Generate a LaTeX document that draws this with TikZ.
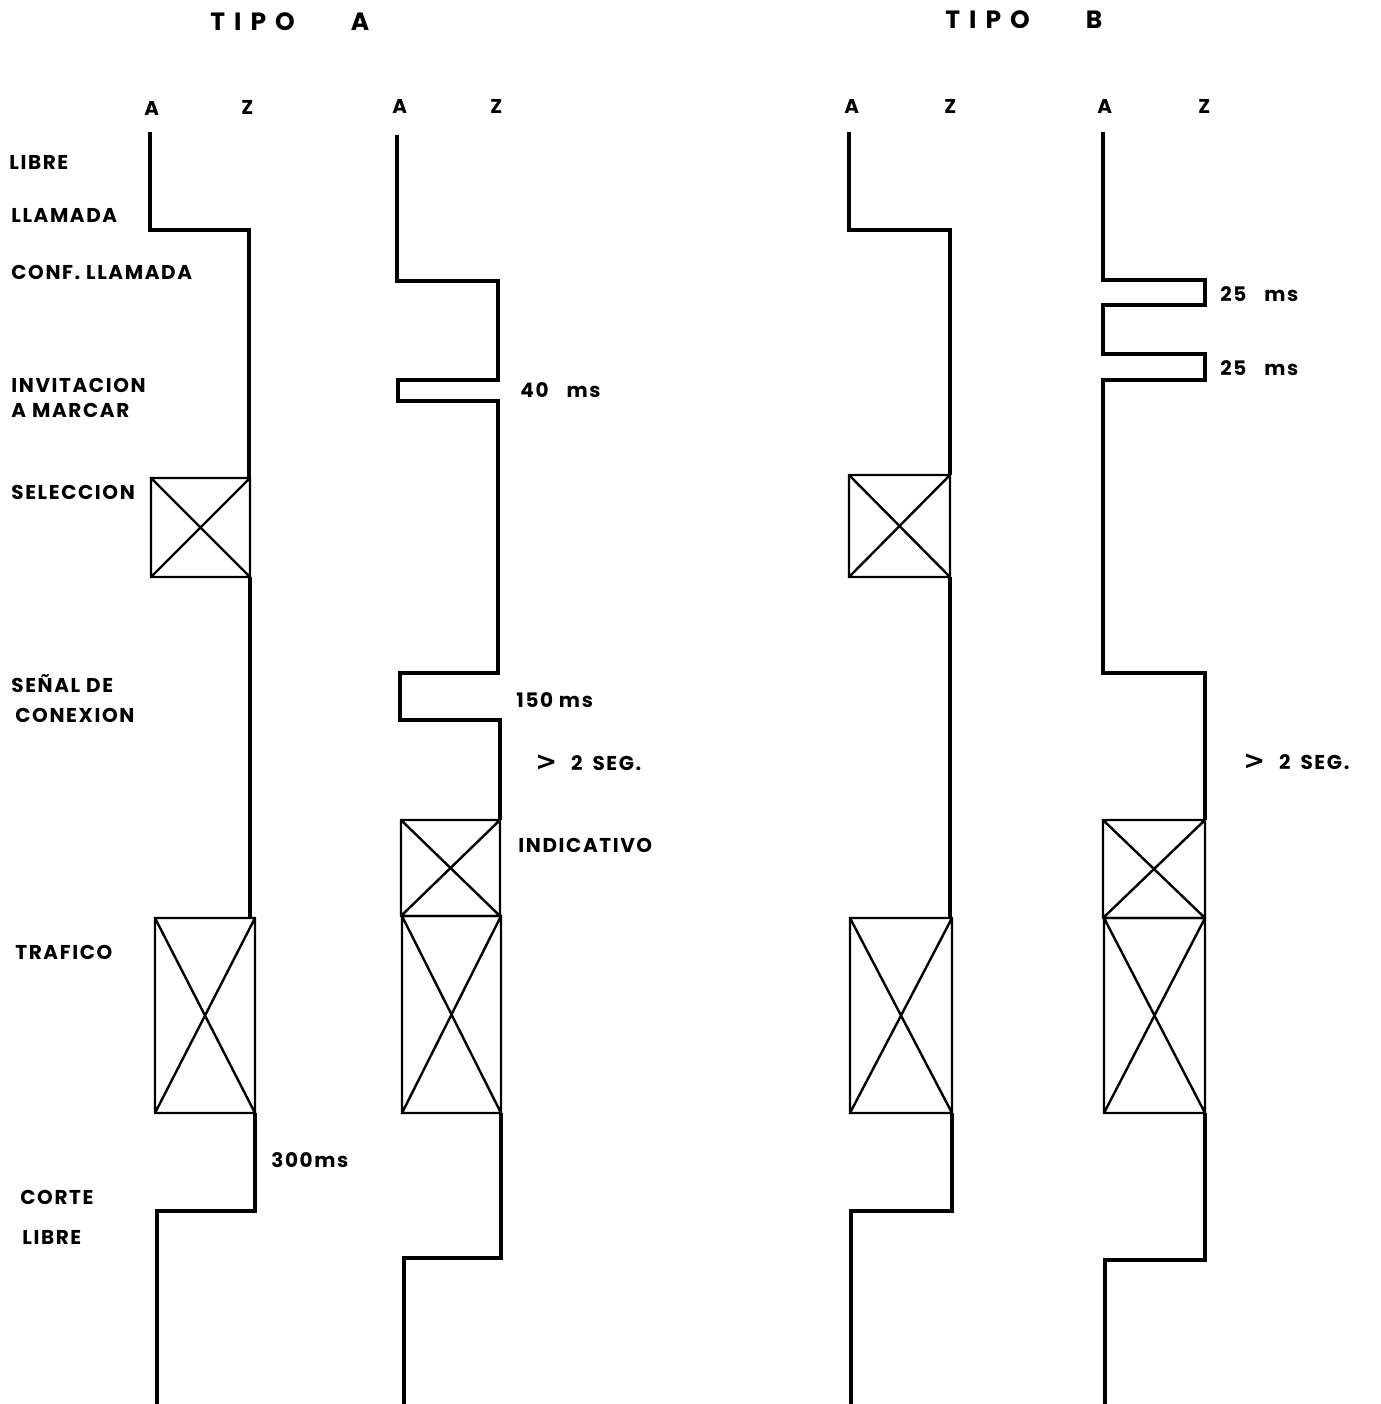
\documentclass[tikz,border=0pt]{standalone}
\usepackage{fontspec}
\newfontfamily\lab[LetterSpace=8]{Poppins}
\newfontfamily\ttl[LetterSpace=36]{Poppins}
\newfontfamily\symf{DejaVu Sans}
\newcommand\crossbox[4]{\draw[xbx] (#1,#2) rectangle (#3,#4) (#1,#2) -- (#3,#4) (#1,#4) -- (#3,#2);}
\newcommand\gtsym{{\symf\bfseries\fontsize{13}{13}\selectfont >}}
\begin{document}
\begin{tikzpicture}[x=0.5pt,y=-0.5pt,
 sig/.style={line width=1.6pt, line join=miter},
 xbx/.style={line width=1.2pt},
 lbl/.style={anchor=west, inner sep=0pt, font=\lab\bfseries\fontsize{10}{12}\selectfont},
 ttlst/.style={anchor=west, inner sep=0pt, font=\ttl\bfseries\fontsize{12.5}{14}\selectfont},
]
\useasboundingbox (0,0) rectangle (1381,1404);
% titles
\node[ttlst] (ta) at (210,22) {TIPO\hspace{28pt}A};
\node[ttlst] (tb) at (945,20) {TIPO\hspace{28pt}B};
% column heads
\node[lbl] (a1) at (144,108) {A};
\node[lbl] (z1) at (241,107) {Z};
\node[lbl] (a2) at (392,106) {A};
\node[lbl] (z2) at (490,106) {Z};
\node[lbl] (a3) at (844,106) {A};
\node[lbl] (z3) at (944,106) {Z};
\node[lbl] (a4) at (1097,106) {A};
\node[lbl] (z4) at (1198,106) {Z};
% left labels
\node[lbl] (l1) at (9,162) {LIBRE};
\node[lbl] (l2) at (11,215) {LLAMADA};
\node[lbl] (l3) at (11,272) {CONF. LLAMADA};
\node[lbl] (l4) at (11,385) {INVITACION};
\node[lbl] (l5) at (11,410) {A\hspace{3pt}MARCAR};
\node[lbl] (l6) at (11,492) {SELECCION};
\node[lbl] (l7) at (11,684) {SEÑAL\hspace{3pt}DE};
\node[lbl] (l8) at (15,715) {CONEXION};
\node[lbl] (l9) at (15,952) {TRAFICO};
\node[lbl] (l10) at (20,1197) {CORTE};
\node[lbl] (l11) at (22,1237) {LIBRE};
% annotations
\node[lbl] (n40) at (520,390) {40\hspace{9pt}ms};
\node[lbl] (n150) at (516,700) {150 ms};
\node[lbl] (n2a) at (535,763) {\gtsym\hspace{7pt}2\hspace{5pt}SEG.};
\node[lbl] (nind) at (518,845) {INDICATIVO};
\node[lbl] (n300) at (271,1160) {300ms};
\node[lbl] (n25a) at (1220,294) {25\hspace{9pt}ms};
\node[lbl] (n25b) at (1220,368) {25\hspace{9pt}ms};
\node[lbl] (n2b) at (1243,762) {\gtsym\hspace{7pt}2\hspace{5pt}SEG.};
% column 1
\draw[sig] (150,132) -- (150,230) -- (249,230) -- (249,478);
\crossbox{151}{478}{250}{577}
\draw[sig] (250,577) -- (250,918);
\crossbox{155}{918}{255}{1113}
\draw[sig] (255,1113) -- (255,1211) -- (157,1211) -- (157,1404);
% column 2
\draw[sig] (397,135) -- (397,281) -- (498,281) -- (498,380) -- (398,380) -- (398,401) -- (498,401) -- (498,673) -- (400,673) -- (400,720) -- (500,720) -- (500,820);
\crossbox{401}{820}{500}{916}
\crossbox{402}{916}{501}{1113}
\draw[sig] (501,1113) -- (501,1258) -- (404,1258) -- (404,1404);
% column 3
\draw[sig] (849,132) -- (849,230) -- (950,230) -- (950,475);
\crossbox{849}{475}{950}{577}
\draw[sig] (950,577) -- (950,918);
\crossbox{850}{918}{952}{1113}
\draw[sig] (952,1113) -- (952,1211) -- (851,1211) -- (851,1404);
% column 4
\draw[sig] (1103,132) -- (1103,280) -- (1205,280) -- (1205,305) -- (1103,305) -- (1103,354) -- (1205,354) -- (1205,380) -- (1103,380) -- (1103,673) -- (1205,673) -- (1205,820);
\crossbox{1103}{820}{1205}{918}
\crossbox{1104}{918}{1205}{1113}
\draw[sig] (1205,1113) -- (1205,1260) -- (1105,1260) -- (1105,1404);
\end{tikzpicture}
\end{document}
